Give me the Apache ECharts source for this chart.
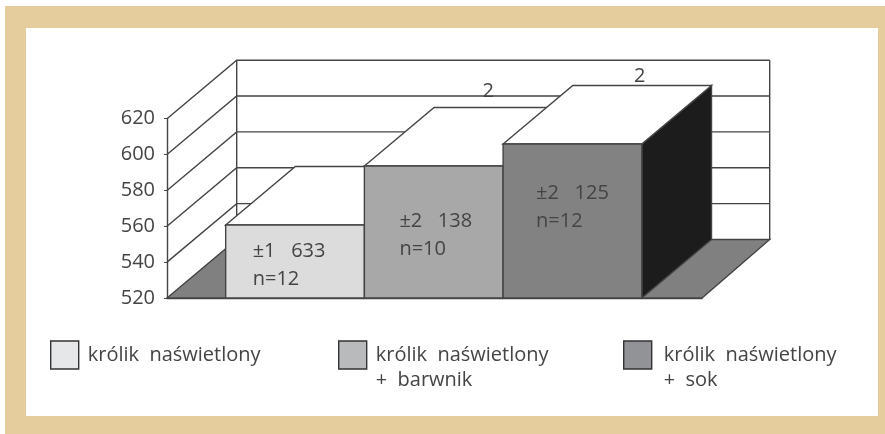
<!DOCTYPE html>
<html>
<head>
<meta charset="utf-8">
<style>html,body{margin:0;padding:0;background:#fff}#chart{width:885px;height:434px}</style>
<script src="https://cdn.jsdelivr.net/npm/echarts@6/dist/echarts.min.js"></script>
</head>
<body>
<div id="chart"></div>
<script>
// Series names, one bar per group
const seriesNames = ['królik naświetlony', 'królik naświetlony + barwnik', 'królik naświetlony + sok'];
// Bar heights on the value axis
const barValues = [560.7, 593.6, 605.9];
// Text printed on each bar and above it
const spreadLabels = ['±1   633', '±2   138', '±2   125'];
const countLabels = ['n=12', 'n=10', 'n=12'];
const topLabels = ['', '2', '2'];
// Value axis
const yMin = 520, yMax = 620, yStep = 20;
const yTicks = [520, 540, 560, 580, 600, 620];

// Pseudo-3D look
const depthX = 69.7, depthY = -58.5, wallInset = 2;
const xMin = -0.923, xMax = 2.934;
const barFill = ['#dcdcdc', '#a8a8a8', '#828282'];
const swatchFill = ['#e6e7e8', '#b9babc', '#929396'];
const sideFill = '#1c1c1c', floorFill = '#808080', edge = '#444444', inkColor = '#444';
const fontFamily = '"Open Sans", sans-serif';
// Label anchor offsets from each bar's left edge and top
const labelDx = [27, 35, 33], labelDy = [26, 55, 49];
const topDx = [0, 118, 131], topDy = [0, -75, -68];

const line = (pts, w) => ({
  type: 'polyline', shape: { points: pts },
  style: { fill: 'none', stroke: edge, lineWidth: w || 1.4 }
});
const poly = (pts, fill) => ({
  type: 'polygon', shape: { points: pts },
  style: { fill: fill, stroke: edge, lineWidth: 1.4 }
});
const label = (x, y, text) => ({
  type: 'text', x: x, y: y,
  style: { text: text, fill: inkColor, font: '20px ' + fontFamily, align: 'left', verticalAlign: 'middle' }
});
const back = p => [p[0] + depthX, p[1] + depthY];
const backRight = p => [p[0] + depthX - wallInset, p[1] + depthY];

// Floor and side/back walls with their gridlines
function renderFrame(params, api) {
  const c0 = api.coord([xMin, yMin]), c1 = api.coord([xMax, yMin]);
  const t0 = api.coord([xMin, yMax]), t1 = api.coord([xMax, yMax]);
  const kids = [poly([c0, c1, backRight(c1), back(c0)], floorFill)];
  yTicks.forEach(v => {
    if (v === yMin) return;
    const f = api.coord([xMin, v]), r = api.coord([xMax, v]);
    kids.push(line([f, back(f), backRight(r)]));
  });
  kids.push(line([back(c0), back(t0)]));
  kids.push(line([backRight(c1), backRight(t1)]));
  return { type: 'group', children: kids };
}

// One box: front face, lit top, dark right side, and its texts
function renderBar(i) {
  return function (params, api) {
    const v = api.value(1);
    const tl = api.coord([i - 0.5, v]), tr = api.coord([i + 0.5, v]);
    const bl = api.coord([i - 0.5, yMin]), br = api.coord([i + 0.5, yMin]);
    const kids = [
      poly([tr, br, back(br), back(tr)], sideFill),
      poly([tl, tr, back(tr), back(tl)], '#ffffff'),
      poly([tl, tr, br, bl], barFill[i]),
      label(tl[0] + labelDx[i], tl[1] + labelDy[i], spreadLabels[i]),
      label(tl[0] + labelDx[i], tl[1] + labelDy[i] + 28, countLabels[i])
    ];
    if (topLabels[i]) kids.push(label(tl[0] + topDx[i], tl[1] + topDy[i], topLabels[i]));
    return { type: 'group', children: kids };
  };
}

const legendLefts = [50, 338, 623];
const legends = seriesNames.map((name, i) => ({
  left: legendLefts[i], top: 317.5, orient: 'vertical', padding: 0,
  itemWidth: 28, itemHeight: 28, icon: 'rect', selectedMode: false,
  data: [{ name: name, itemStyle: { color: swatchFill[i], borderColor: '#333', borderWidth: 1.4 } }],
  textStyle: { color: inkColor, fontFamily: fontFamily, fontSize: 20, lineHeight: 25, padding: [0, 0, 0, i === 2 ? 7 : 4] },
  // Three text rows with an empty first one keep the name's first row level with the swatch
  formatter: n => {
    const rows = n.split(' + ');
    return '\n' + rows[0].replace(/ /g, '  ') + '\n' + (rows[1] ? '+  ' + rows[1] : ' ');
  }
}));

const chart = echarts.init(document.getElementById('chart'), null, { renderer: 'canvas' });
chart.setOption({
  animation: false,
  backgroundColor: '#fff',
  graphic: [
    { type: 'rect', z: -2, shape: { x: 5, y: 6, width: 880, height: 428 }, style: { fill: '#e6cd9e' } },
    { type: 'rect', z: -1, shape: { x: 26, y: 28, width: 852, height: 388 }, style: { fill: '#fff' } }
  ],
  legend: legends,
  grid: { left: 167, width: 535, top: 118.7, height: 179.3 },
  xAxis: {
    type: 'value', min: xMin, max: xMax,
    axisLine: { show: true, onZero: false, lineStyle: { color: edge, width: 1.4 } },
    axisTick: { show: false }, axisLabel: { show: false }, splitLine: { show: false }
  },
  yAxis: {
    type: 'value', min: yMin, max: yMax, interval: yStep,
    axisLine: { show: true, onZero: false, lineStyle: { color: edge, width: 1.4 } },
    axisTick: { show: true, length: 3, lineStyle: { color: edge } },
    axisLabel: { color: inkColor, fontFamily: fontFamily, fontSize: 20, margin: 12 },
    splitLine: { show: false }
  },
  series: [
    { type: 'custom', name: 'frame', coordinateSystem: 'cartesian2d', silent: true, z: 1,
      renderItem: renderFrame, data: [[0, yMin]], clip: false }
  ].concat(seriesNames.map((name, i) => ({
    type: 'custom', name: name, coordinateSystem: 'cartesian2d', silent: true, z: 2 + i,
    itemStyle: { color: barFill[i] },
    renderItem: renderBar(i), data: [[i, barValues[i]]], clip: false
  })))
});
</script>
</body>
</html>
